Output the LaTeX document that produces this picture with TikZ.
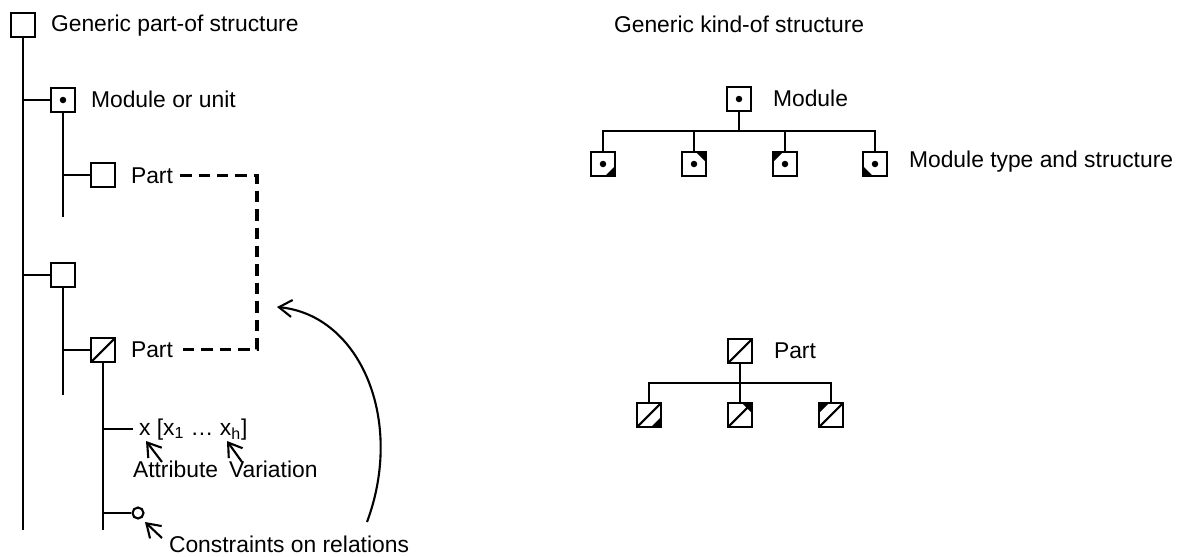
\documentclass[tikz,border=0pt]{standalone}
\usepackage{fontspec}
\setmainfont{Liberation Sans}
\usepackage{tikz}
\usetikzlibrary{arrows.meta}
\newcommand{\cnr}[3]{\fill[black] (path picture bounding box.#1) -- ++(#2) -- ++(#3) -- cycle;}
\tikzset{box/.style={draw, line width=1.2pt, minimum size=0.48cm, inner sep=0pt, fill=white},
         ubox/.style={box, path picture={\fill[black] (path picture bounding box.center) circle (0.065cm); #1}},
         ubox/.default={},
         pbox/.style={box, path picture={\draw[line width=1.2pt] (path picture bounding box.south west) -- (path picture bounding box.north east); #1}},
         pbox/.default={},
         lbl/.style={anchor=base west, inner sep=0pt},
         rel/.style={line width=1.8pt, dash pattern=on 6.5pt off 4pt}
}

\begin{document}
\begin{tikzpicture}[x=0.02cm, y=-0.02cm, line width=1.2pt, font=\fontsize{13pt}{15pt}\selectfont, >={Straight Barb[length=2.6mm,width=3.4mm]}]
\useasboundingbox (0,0) rectangle (1178,556);
\coordinate (topend) at (23,530);
\coordinate (modend) at (63,217);
\coordinate (grpend) at (63,395);
\coordinate (prt2end) at (103,530);
\coordinate (dx) at (257,0);
\node[box] (top) at (23,25) {};
\node[ubox] (mod) at (63,100) {};
\node[box] (prt1) at (103,175) {};
\node[box] (grp) at (63,275) {};
\node[pbox] (prt2) at (103,350) {};
\node[circle, draw, fill=white, minimum size=0.22cm, inner sep=0pt] (con) at (138,513) {};
\node[lbl] (ttl1) at (50,31) {Generic part-of structure};
\node[lbl] (modl) at (90,107) {Module or unit};
\node[lbl] (prt1l) at (130,183) {Part};
\node[lbl] (prt2l) at (130,357) {Part};
\node[lbl] (xval) at (138,435) {x [x\textsubscript{1} … x\textsubscript{h}]};
\node[lbl] (attr) at (132,477) {Attribute};
\node[lbl] (vari) at (228,477) {Variation};
\node[lbl] (conl) at (168,552) {Constraints on relations};
\draw (top.south) -- (topend);
\draw (top.south |- mod.west) -- (mod.west);
\draw (top.south |- grp.west) -- (grp.west);
\draw (mod.south) -- (modend);
\draw (mod.south |- prt1.west) -- (prt1.west);
\draw (grp.south) -- (grpend);
\draw (grp.south |- prt2.west) -- (prt2.west);
\draw (prt2.south) -- (prt2end);
\draw[shorten >=3pt] (prt2.south |- xval.west) -- (xval.west);
\draw (prt2.south |- con.west) -- (con.west);
\draw[rel, shorten <=3.5pt, shorten >=3.5pt] (prt1l.east) -- (prt1l.east -| dx) |- (prt2l.east);
\coordinate (attrs) at (162,462);
\coordinate (attrt) at (146,441);
\coordinate (varis) at (242,462);
\coordinate (varit) at (227,441);
\coordinate (cons) at (162,538);
\coordinate (cont) at (145,522);
\coordinate (cs) at (367,522);
\coordinate (ct) at (277,307);
\draw[->] (attrs) -- (attrt);
\draw[->] (varis) -- (varit);
\draw[->] (cons) -- (cont);
\draw[->] (cs) .. controls (405,420) and (360,315) .. (ct);
\node[lbl] (ttl2) at (613,32) {Generic kind-of structure};
\node[ubox] (mod2) at (739,99) {};
\node[lbl] (mod2l) at (772,106) {Module};
\coordinate (mbus) at (739,131);
\node[ubox={\cnr{south east}{-0.2cm,0cm}{0.2cm,0.2cm}}] (k1) at (603,164) {};
\node[ubox={\cnr{north east}{-0.2cm,0cm}{0.2cm,-0.2cm}}] (k2) at (694,164) {};
\node[ubox={\cnr{north west}{0.2cm,0cm}{-0.2cm,-0.2cm}}] (k3) at (785,164) {};
\node[ubox={\cnr{south west}{0.2cm,0cm}{-0.2cm,0.2cm}}] (k4) at (875,164) {};
\node[lbl] (k4l) at (908,167) {Module type and structure};
\foreach \k in {k1,k2,k3,k4} \draw (mod2.south) -- (mbus) -| (\k.north);
\node[pbox] (prt3) at (740,351) {};
\node[lbl] (prt3l) at (773,358) {Part};
\coordinate (pbus) at (740,383);
\node[pbox={\cnr{south east}{-0.2cm,0cm}{0.2cm,0.2cm}}] (q1) at (649,415) {};
\node[pbox={\cnr{north east}{-0.2cm,0cm}{0.2cm,-0.2cm}}] (q2) at (740,415) {};
\node[pbox={\cnr{north west}{0.2cm,0cm}{-0.2cm,-0.2cm}}] (q3) at (831,415) {};
\foreach \q in {q1,q2,q3} \draw (prt3.south) -- (pbus) -| (\q.north);
\end{tikzpicture}
\end{document}
